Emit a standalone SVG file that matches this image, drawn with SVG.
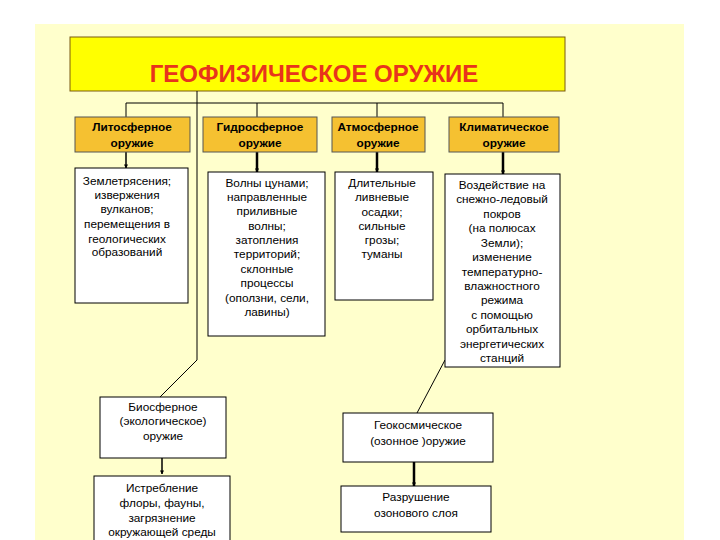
<svg xmlns="http://www.w3.org/2000/svg" width="720" height="540" viewBox="0 0 720 540">
<style>
text{font-family:"Liberation Sans",Arial,sans-serif;font-size:11.8px;fill:#000;text-anchor:middle}
.hd{font-weight:bold}
.box{fill:#fff;stroke:#000;stroke-width:1}
.hbox{fill:#F5C131;stroke:#555;stroke-width:1}
.ln{stroke:#000;stroke-width:1;fill:none}
.ar{stroke:#000;stroke-width:1.5;fill:none;marker-end:url(#ah)}
.ar2{stroke:#000;stroke-width:2.5;fill:none;marker-end:url(#ah)}
</style>
<defs>
<marker id="ah" viewBox="0 0 10 10" refX="9" refY="5" markerWidth="4" markerHeight="4" markerUnits="userSpaceOnUse" orient="auto"><path d="M0,0L10,5L0,10z" fill="#000"/></marker>
</defs>
<rect x="0" y="0" width="720" height="540" fill="#fff"/>
<rect x="35" y="24" width="649" height="516" fill="#FFFFCC"/>
<g id="title">
<rect x="70" y="37" width="495" height="54" fill="#FFFF00" stroke="#7a5a10" stroke-width="1"/>
<text x="314" y="82" style="font-size:24px;font-weight:bold;fill:#E8341C">ГЕОФИЗИЧЕСКОЕ ОРУЖИЕ</text>
</g>
<g id="connectors">
<path class="ln" d="M126,103H503M126,103V117M257,103V117M377,103V117M503,103V117"/>
<path class="ln" d="M197,91V360L160,397"/>
<path class="ln" d="M445,360L417,413"/>
<path class="ar" d="M126,152V168"/>
<path class="ar2" d="M257,152V172"/>
<path class="ar2" d="M377,152V172"/>
<path class="ar2" d="M503,152V174"/>
<path class="ar" d="M162,458V474"/>
<path class="ar2" d="M414,462V486"/>
</g>
<g id="litho">
<rect class="hbox" x="75" y="117" width="115" height="35"/>
<text class="hd" x="132" y="131">Литосферное</text>
<text class="hd" x="132" y="147">оружие</text>
</g>
<g id="hydro">
<rect class="hbox" x="203" y="117" width="114" height="35"/>
<text class="hd" x="260" y="131">Гидросферное</text>
<text class="hd" x="260" y="147">оружие</text>
</g>
<g id="atmo">
<rect class="hbox" x="332" y="117" width="93" height="35"/>
<text class="hd" x="378" y="131">Атмосферное</text>
<text class="hd" x="378" y="147">оружие</text>
</g>
<g id="climate">
<rect class="hbox" x="449" y="117" width="110" height="35"/>
<text class="hd" x="504" y="131">Климатическое</text>
<text class="hd" x="504" y="147">оружие</text>
</g>
<g id="litho-effects">
<rect class="box" x="75" y="168" width="113" height="135"/>
<text x="127" y="185">Землетрясения;</text>
<text x="127" y="199">извержения</text>
<text x="127" y="213">вулканов;</text>
<text x="127" y="228">перемещения в</text>
<text x="127" y="243">геологических</text>
<text x="127" y="256">образований</text>
</g>
<g id="hydro-effects">
<rect class="box" x="208" y="172" width="117" height="164"/>
<text x="267" y="187">Волны цунами;</text>
<text x="267" y="201">направленные</text>
<text x="267" y="215">приливные</text>
<text x="267" y="230">волны;</text>
<text x="267" y="244">затопления</text>
<text x="267" y="258">территорий;</text>
<text x="267" y="273">склонные</text>
<text x="267" y="287">процессы</text>
<text x="267" y="302">(оползни, сели,</text>
<text x="267" y="316">лавины)</text>
</g>
<g id="atmo-effects">
<rect class="box" x="335" y="172" width="98" height="128"/>
<text x="382" y="187">Длительные</text>
<text x="382" y="201">ливневые</text>
<text x="382" y="216">осадки;</text>
<text x="382" y="230">сильные</text>
<text x="382" y="244">грозы;</text>
<text x="382" y="258">туманы</text>
</g>
<g id="climate-effects">
<rect class="box" x="445" y="174" width="115" height="193"/>
<text x="502" y="189">Воздействие на</text>
<text x="502" y="203">снежно-ледовый</text>
<text x="502" y="218">покров</text>
<text x="502" y="232">(на полюсах</text>
<text x="502" y="247">Земли);</text>
<text x="502" y="261">изменение</text>
<text x="502" y="276">температурно-</text>
<text x="502" y="290">влажностного</text>
<text x="502" y="304">режима</text>
<text x="502" y="319">с помощью</text>
<text x="502" y="333">орбитальных</text>
<text x="502" y="348">энергетических</text>
<text x="502" y="362">станций</text>
</g>
<g id="bio">
<rect class="box" x="100" y="397" width="126" height="61"/>
<text x="163" y="411">Биосферное</text>
<text x="163" y="425">(экологическое)</text>
<text x="163" y="440">оружие</text>
</g>
<g id="bio-effects">
<rect class="box" x="94" y="476" width="136" height="70"/>
<text x="162" y="492">Истребление</text>
<text x="162" y="507">флоры, фауны,</text>
<text x="162" y="522">загрязнение</text>
<text x="162" y="536">окружающей среды</text>
</g>
<g id="geocosmic">
<rect class="box" x="343" y="413" width="150" height="49"/>
<text x="418" y="429">Геокосмическое</text>
<text x="418" y="445">(озонное )оружие</text>
</g>
<g id="ozone">
<rect class="box" x="341" y="486" width="150" height="46"/>
<text x="416" y="501">Разрушение</text>
<text x="416" y="517">озонового слоя</text>
</g>
</svg>
